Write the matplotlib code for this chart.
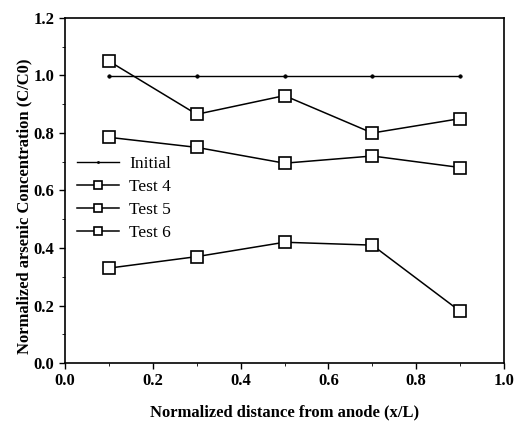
import matplotlib
matplotlib.use("Agg")
import matplotlib.pyplot as plt
from matplotlib.ticker import MultipleLocator, FormatStrFormatter

x = [0.1, 0.3, 0.5, 0.7, 0.9]
initial = [1.0, 1.0, 1.0, 1.0, 1.0]
test4 = [1.05, 0.865, 0.93, 0.80, 0.85]
test5 = [0.785, 0.75, 0.695, 0.72, 0.68]
test6 = [0.33, 0.37, 0.42, 0.41, 0.18]

plt.rcParams['font.family'] = ['Liberation Serif', 'DejaVu Serif']

fig = plt.figure(figsize=(5.16, 4.30), dpi=100)
ax = fig.add_axes([65/516, 1-363/430, 439/516, 345/430])

ax.plot(x, initial, color='black', lw=1.0, marker='o', ms=2.5, mew=0.5, label='Initial')
sq = dict(color='black', lw=1.1, marker='s', ms=9, mfc='white', mec='black', mew=1.2)
ax.plot(x, test4, label='Test 4', **sq)
ax.plot(x, test5, label='Test 5', **sq)
ax.plot(x, test6, label='Test 6', **sq)

ax.set_xlim(0, 1.0)
ax.set_ylim(0, 1.2)
ax.xaxis.set_major_locator(MultipleLocator(0.2))
ax.yaxis.set_major_locator(MultipleLocator(0.2))
ax.xaxis.set_minor_locator(MultipleLocator(0.1))
ax.yaxis.set_minor_locator(MultipleLocator(0.1))
ax.tick_params(which='major', direction='out', length=4, width=1.0)
ax.tick_params(which='minor', direction='out', length=2, width=0.6)
ax.xaxis.set_major_formatter(FormatStrFormatter('%.1f'))
ax.yaxis.set_major_formatter(FormatStrFormatter('%.1f'))
for lab in ax.get_xticklabels() + ax.get_yticklabels():
    lab.set_fontweight('bold')
    lab.set_fontsize(12)
for s in ax.spines.values():
    s.set_linewidth(1.2)

ax.set_xlabel('Normalized distance from anode (x/L)', fontsize=12, fontweight='bold', labelpad=11)
ax.set_ylabel('Normalized arsenic Concentration (C/C0)', fontsize=12, fontweight='bold')
ax.yaxis.set_label_coords(-0.075, 0.455)

leg = ax.legend(loc='upper left', bbox_to_anchor=(0.027, 0.60), frameon=False, fontsize=12.5,
                handlelength=2.4, labelspacing=0.4, handletextpad=0.6,
                borderaxespad=0, borderpad=0, markerscale=0.6)

fig.savefig('out.png', dpi=100)
